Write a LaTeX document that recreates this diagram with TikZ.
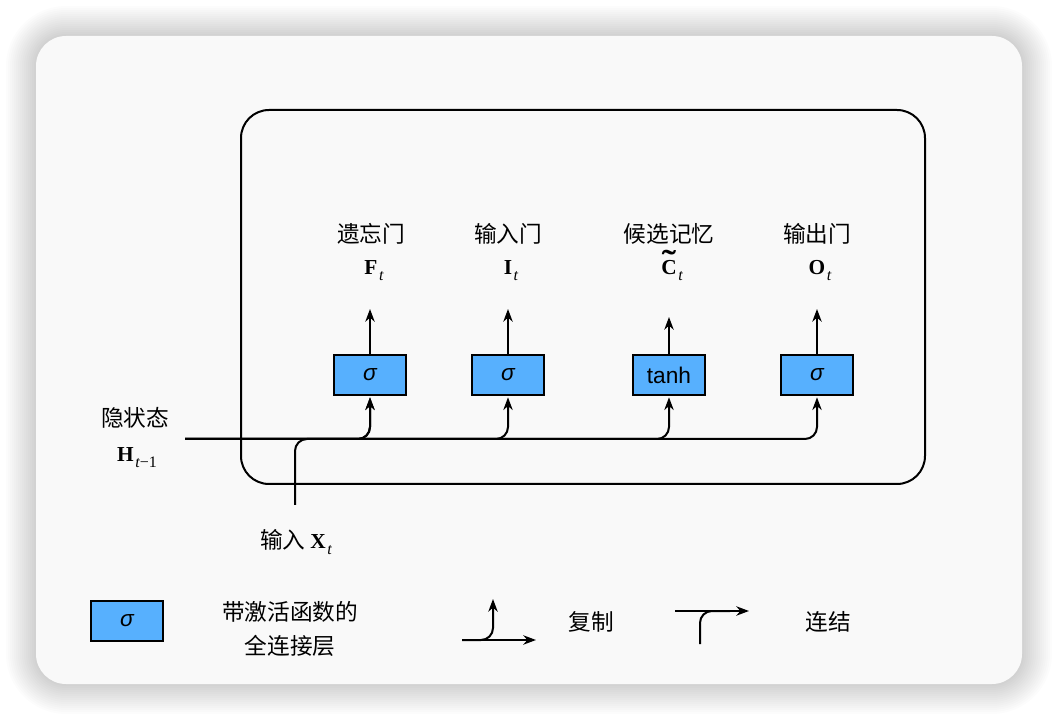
\documentclass[tikz,border=0pt]{standalone}
\usepackage{fontspec}
\usepackage{xcolor}
\usepackage{graphicx}
\newfontfamily\cjk{Noto Sans CJK SC}
\newfontfamily\sans{Liberation Sans}
\newfontfamily\symfont{Liberation Serif}
\definecolor{boxblue}{RGB}{87,176,254}
\definecolor{cardgray}{RGB}{249,249,249}
\usetikzlibrary{calc, positioning, arrows.meta}

% ký hiệu đậm kèm chỉ số dưới nghiêng
\newcommand{\gatesym}[2]{{\symfont\fontsize{16}{19}\selectfont\bfseries #1\kern1.2pt%
    \raisebox{-4.5pt}{\fontsize{12}{13}\selectfont\mdseries #2}}}
\newcommand{\tildebold}[1]{\setbox0\hbox{#1}%
    \rlap{\smash{\hbox to \wd0{\hss\raisebox{0.12em}{\scalebox{2}[1.5]{\symbol{"02DC}}}\hss}}}\box0}

\begin{document}
\begin{tikzpicture}[>={Stealth[length=9.5pt, width=7pt, inset=3pt]}, x=0.75pt, y=-0.75pt]
    \tikzset{
        layer/.style={draw, line width=1.5pt, fill=boxblue, minimum width=54pt,
            minimum height=30pt, inner sep=0pt, font=\sans\fontsize{17}{20}\selectfont},
        flow/.style={line width=1.5pt, rounded corners=9pt},
        cjktext/.style={font=\cjk\fontsize{17}{20}\selectfont},
    }

    % --- nền và thẻ ---
    \useasboundingbox (0,0) rectangle (1058,720);
    \fill[white] (0,0) rectangle (1058,720);
    \foreach \d in {1,...,15} {
        \pgfmathsetmacro\rr{22.5+1.5*\d}
        \fill[black, opacity=0.01, rounded corners=\rr pt]
            ({36-2*\d},{36-2*\d}) rectangle ({1022+2*\d},{684+2*\d});
    }
    \fill[cardgray, rounded corners=22.5pt] (36,36) rectangle (1022,684);

    % --- khung ô nhớ ---
    \draw[line width=1.5pt, rounded corners=21pt] (241,110) rectangle (925,484);

    % --- các tầng kết nối đầy đủ ---
    \node[layer] (f) at (370,375) {\itshape σ};
    \node[layer] (i) at (508,375) {\itshape σ};
    \node[layer] (c) at (669,375) {tanh};
    \node[layer] (o) at (817,375) {\itshape σ};

    % --- nhãn các cổng ---
    \node[cjktext] (fname) at (371,234) {遗忘门};
    \node (fsym) at (374,271) {\gatesym{F}{\itshape t}};
    \node[cjktext] (iname) at (508,234) {输入门};
    \node (isym) at (511,271) {\gatesym{I}{\itshape t}};
    \node[cjktext] (cname) at (669,234) {候选记忆};
    \node (csym) at (672,271) {\gatesym{\tildebold{C}}{\itshape t}};
    \node[cjktext] (oname) at (817,234) {输出门};
    \node (osym) at (820,271) {\gatesym{O}{\itshape t}};

    % --- mũi tên ra ---
    \coordinate (fout) at (370,309);
    \coordinate (iout) at (508,309);
    \coordinate (cout) at (669,317);
    \coordinate (oout) at (817,309);
    \foreach \g in {f,i,c,o}
        \draw[->, line width=1.5pt] (\g.north) -- (\g out);

    % --- đầu vào ---
    \node[cjktext] (hname) at (135,418) {隐状态};
    \node (hsym) at (137,458) {\gatesym{H}{\itshape t\upshape −1}};
    \node[cjktext] (xname) at (296,542) {输入\ \gatesym{X}{\itshape t}};
    \coordinate (hin) at (185,439);
    \coordinate (xin) at (295,505);

    \foreach \g in {f,i,c,o}
        \draw[flow, ->, shorten >=1pt] (hin) -| (\g.south);
    \draw[flow, ->, shorten >=1pt] (xin) |- (f.south |- hin) -- (f.south);

    % --- chú giải ---
    \node[layer] (legbox) at (127,621) {\itshape σ};
    \node[cjktext, align=center, font=\cjk\fontsize{17}{25.5}\selectfont] (legtext)
        at (290,629) {带激活函数的\\全连接层};

    \coordinate (cpl) at (462,640);
    \coordinate (cpr) at (536,640);
    \coordinate (cpu) at (493,599);
    \draw[flow, ->] (cpl) -- (cpr);
    \draw[flow, ->] (cpl) -| (cpu);
    \node[cjktext] (copytext) at (591,622) {复制};

    \coordinate (cal) at (675,611);
    \coordinate (car) at (749,611);
    \coordinate (cam) at (730,611);
    \coordinate (cad) at (700,644);
    \draw[flow, ->] (cal) -- (car);
    \draw[flow] (cad) |- (cam);
    \node[cjktext] (cattext) at (828,622) {连结};

\end{tikzpicture}
\end{document}
